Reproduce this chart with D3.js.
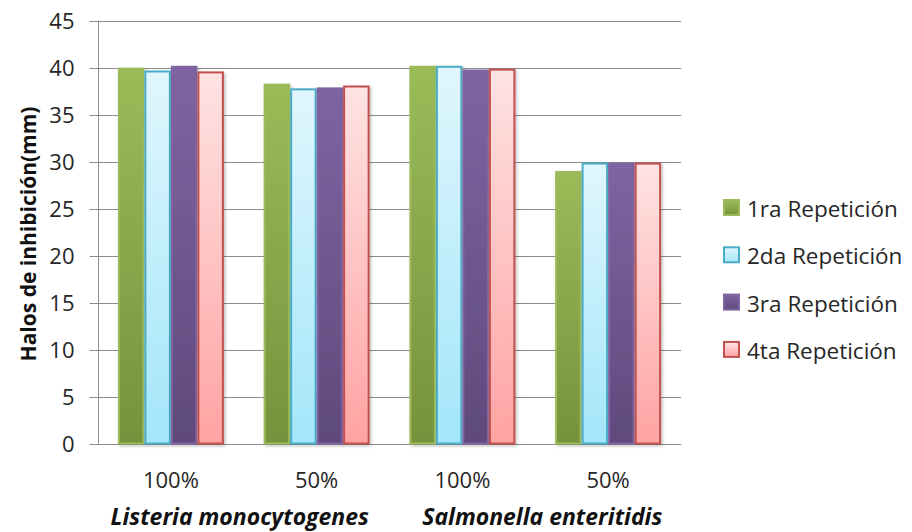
<!DOCTYPE html>
<html>
<head>
<meta charset="utf-8">
<script src="https://cdn.jsdelivr.net/npm/d3@7"></script>
<style>
  html, body { margin: 0; padding: 0; background: #fff; }
  svg { display: block; font-family: "Open Sans", "Noto Sans", sans-serif; }
</style>
</head>
<body>
<svg id="chart" width="912" height="532"></svg>
<script>
// Concentration groups along the x axis, with the organism under each pair
const categories = ["100%", "50%", "100%", "50%"];
const organisms = ["Listeria monocytogenes", "Salmonella enteritidis"];
const seriesNames = ["1ra Repetición", "2da Repetición", "3ra Repetición", "4ta Repetición"];

// Inhibition halo (mm) for each repetition, per category
const rep1 = [40.0, 38.3, 40.2, 29.0];
const rep2 = [39.7, 37.8, 40.2, 29.9];
const rep3 = [40.2, 37.9, 39.8, 29.9];
const rep4 = [39.6, 38.1, 39.9, 29.9];

const yTicks = [0, 5, 10, 15, 20, 25, 30, 35, 40, 45];

const series = [rep1, rep2, rep3, rep4];

// fill gradient (top, bottom) and outline for each repetition
const styles = [
  { top: "#9bbb59", bottom: "#76923c", stroke: "#9bbb59" },
  { top: "#e0f6fd", bottom: "#a3e6fa", stroke: "#4bacc6" },
  { top: "#8064a2", bottom: "#5f4a7b", stroke: "#8064a2" },
  { top: "#ffe3e3", bottom: "#ffa3a3", stroke: "#c0504d" }
];

const textColor = "#262626";
const svg = d3.select("#chart");
const plot = { left: 98, right: 681, top: 20.7, bottom: 443.5 };

const defs = svg.append("defs");
styles.forEach((s, i) => {
  const g = defs.append("linearGradient")
    .attr("id", "grad" + i).attr("x1", 0).attr("y1", 0).attr("x2", 0).attr("y2", 1);
  g.append("stop").attr("offset", "0%").attr("stop-color", s.top);
  g.append("stop").attr("offset", "100%").attr("stop-color", s.bottom);
});
const shadow = defs.append("filter").attr("id", "shadow")
  .attr("x", "-20%").attr("y", "-5%").attr("width", "150%").attr("height", "115%");
shadow.append("feDropShadow").attr("dx", 1.5).attr("dy", 1.5).attr("stdDeviation", 1.5)
  .attr("flood-color", "#000").attr("flood-opacity", 0.25);

const x0 = d3.scaleBand()
  .domain(d3.range(categories.length))
  .range([plot.left, plot.right])
  .padding(0);

// each category band: four bars plus a 150% gap split on both sides
const band = x0.bandwidth();
const barW = band / 5.5;
const x1 = d3.scaleBand()
  .domain(d3.range(series.length))
  .range([0.75 * barW, band - 0.75 * barW])
  .padding(0);

const y = d3.scaleLinear().domain([0, 45]).range([plot.bottom, plot.top]);

// horizontal gridlines
svg.append("g")
  .selectAll("line")
  .data(yTicks)
  .join("line")
  .attr("x1", plot.left).attr("x2", plot.right)
  .attr("y1", d => Math.round(y(d)) + 0.5).attr("y2", d => Math.round(y(d)) + 0.5)
  .attr("stroke", "#8c8c8c").attr("stroke-width", 1);

// y axis
const yAxis = d3.axisLeft(y).tickValues(yTicks).tickSize(9).tickPadding(15);
const yg = svg.append("g").attr("transform", `translate(${plot.left + 0.5},0)`).call(yAxis);
yg.select(".domain").attr("stroke", "#8c8c8c").attr("d", `M-0,${plot.top}V${plot.bottom}`);
yg.selectAll(".tick line").attr("stroke", "#8c8c8c");
yg.selectAll(".tick").attr("transform", d => `translate(0,${Math.round(y(d)) + 0.5})`);
yg.selectAll("text")
  .attr("font-family", "'Open Sans', 'Noto Sans', sans-serif")
  .attr("font-size", 22).attr("fill", textColor);

// bars
const groups = svg.append("g")
  .selectAll("g")
  .data(series)
  .join("g")
  .attr("filter", "url(#shadow)");

groups.each(function (vals, si) {
  d3.select(this).selectAll("rect")
    .data(vals)
    .join("rect")
    .attr("x", (d, ci) => x0(ci) + x1(si) + 1)
    .attr("width", x1.bandwidth() - 2)
    .attr("y", d => y(d) + 1)
    .attr("height", d => y(0) - y(d) - 1)
    .attr("fill", `url(#grad${si})`)
    .attr("stroke", styles[si].stroke)
    .attr("stroke-width", 2);
});

// category labels
svg.append("g")
  .selectAll("text")
  .data(categories)
  .join("text")
  .attr("x", (d, i) => x0(i) + band / 2)
  .attr("y", 488)
  .attr("text-anchor", "middle")
  .attr("font-size", 22).attr("fill", textColor)
  .text(d => d);

// organism labels, centred under each pair of categories
const organismShift = [-4, 7];
svg.append("g")
  .selectAll("text")
  .data(organisms)
  .join("text")
  .attr("x", (d, i) => x0(i * 2) + band + organismShift[i])
  .attr("y", 525)
  .attr("text-anchor", "middle")
  .attr("font-size", 23).attr("font-weight", "bold").attr("font-style", "italic")
  .attr("fill", "#111")
  .text(d => d);

// y axis title
svg.append("text")
  .attr("transform", `translate(36,234) rotate(-90)`)
  .attr("text-anchor", "middle")
  .attr("font-size", 21).attr("font-weight", "bold").attr("fill", "#111")
  .text("Halos de inhibición(mm)");

// legend
const legend = svg.append("g")
  .selectAll("g")
  .data(seriesNames)
  .join("g")
  .attr("transform", (d, i) => `translate(723,${207 + i * 47.3})`);
legend.append("rect")
  .attr("x", 1).attr("y", -7).attr("width", 15).attr("height", 15)
  .attr("fill", (d, i) => `url(#grad${i})`)
  .attr("stroke", (d, i) => styles[i].stroke)
  .attr("stroke-width", 2);
legend.append("text")
  .attr("x", 24).attr("y", 10)
  .attr("font-size", 22.5).attr("fill", textColor)
  .text(d => d);
</script>
</body>
</html>
